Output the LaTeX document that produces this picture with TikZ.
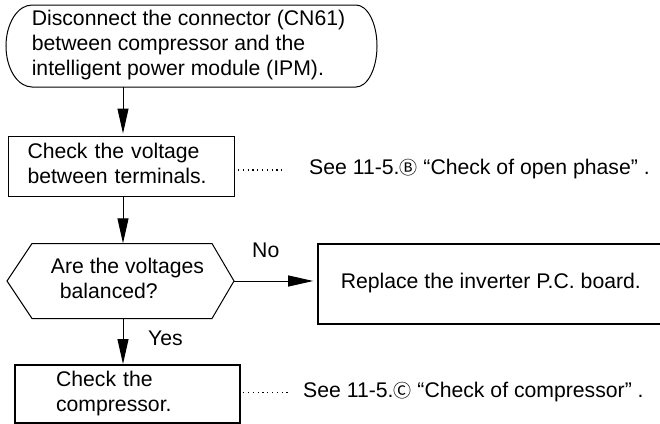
\documentclass[tikz,border=0pt]{standalone}
\usepackage{fontspec}
\setmainfont{Liberation Sans}
\newfontfamily\cjkc{Noto Sans CJK JP}
\usetikzlibrary{arrows.meta}
\newcommand\st{\rule[-6pt]{0pt}{19pt}}
\newcommand\circd[1]{{\cjkc\fontsize{18}{18}\selectfont #1}}
\begin{document}
\begin{tikzpicture}[x=1pt,y=-1pt,
  every node/.style={font=\fontsize{21.2}{25}\selectfont, inner sep=0pt},
  thinbox/.style={draw, line width=1pt, rectangle},
  thickbox/.style={draw, line width=2.2pt, rectangle},
  arr/.style={line width=1pt, -{Triangle[length=25pt,width=11pt]}},
  dotline/.style={line width=1.2pt, dash pattern=on 1.2pt off 3.6pt},
  shapeline/.style={line width=1pt}]
\useasboundingbox (0,0) rectangle (660,423);
\fill[white] (0,0) rectangle (660,423);
\clip (0,0) rectangle (660,423);

% start terminator
\node[minimum width=371pt, minimum height=82pt, align=left] (start) at (191.5,46)
  {\st Disconnect the connector (CN61)\kern6pt\\\st between compressor and the\\\st intelligent power module (IPM).};
\draw[shapeline] (32,5) -- (356,5) .. controls (367.6,5) and (377,23.4) .. (377,46)
  .. controls (377,68.6) and (367.6,87) .. (356,87) -- (32,87)
  .. controls (17.6,87) and (6,68.6) .. (6,46)
  .. controls (6,23.4) and (17.6,5) .. (32,5) -- cycle;

% check voltage box
\node[thinbox, anchor=north west, text width=188pt, inner xsep=19pt, minimum height=60pt, align=left] (v) at (8,136)
  {\st Check the voltage\\\st between terminals.};

% decision
\node[minimum width=227pt, minimum height=75pt, align=left] (q) at (120.5,281)
  {\st\hspace*{14pt}Are the voltages\\\st\hspace*{23pt}balanced?};
\draw[shapeline] (7,281) -- (32,243.5) -- (212,243.5) -- (234,281) -- (212,318.5) -- (32,318.5) -- cycle;

% replace box
\node[thickbox, anchor=north west, minimum width=345pt, minimum height=80pt] (rep) at (317.2,243)
  {\st Replace the inverter P.C. board.};

% compressor box
\node[thickbox, anchor=north west, text width=143pt, inner xsep=41pt, minimum height=58pt, align=left] (comp) at (14,364)
  {\st Check the\\\st compressor.};

% references
\node[anchor=base west] (seeB) at (309,174.3) {See 11-5.\circd{Ⓑ} “Check of open phase” .};
\node[anchor=base west] (seeC) at (303,397) {See 11-5.\circd{Ⓒ} “Check of compressor” .};
\coordinate (dB) at (285,170);
\coordinate (dC) at (288,392.5);
\draw[dotline] ([xshift=3pt]v.east |- dB) -- (dB);
\draw[dotline] ([xshift=2pt]comp.east |- dC) -- (dC);

% labels
\node[anchor=base west] (no) at (252,257) {No};
\node[anchor=base west] (yes) at (148,345) {Yes};

% arrows
\coordinate (ax) at (123,0);
\draw[arr, shorten >=2.5pt] (start.south -| ax) -- (v.north -| ax);
\draw[arr] (v.south -| ax) -- (q.north -| ax);
\draw[arr, shorten >=4pt] (q.east) -- (rep.west |- q.east);
\draw[arr] (q.south -| ax) -- (comp.north -| ax);
\end{tikzpicture}
\end{document}
